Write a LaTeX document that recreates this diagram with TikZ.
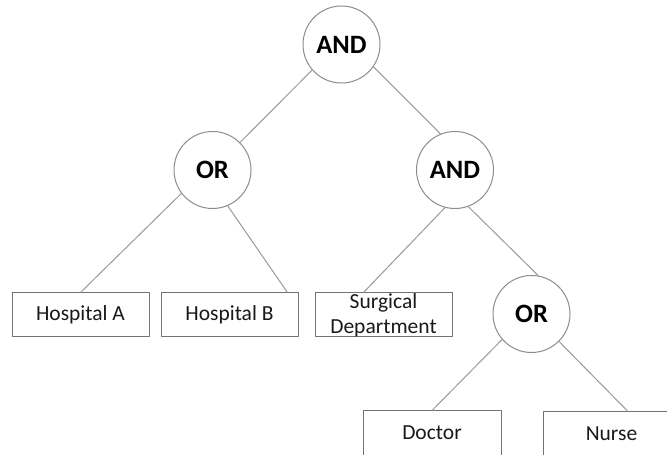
\documentclass[tikz,border=0pt]{standalone}
\usepackage{fontspec}
\setmainfont{Carlito}
\begin{document}
\begin{tikzpicture}[x=1bp,y=1bp,line join=bevel,
  opnode/.style={circle,draw=black!45,line width=1bp,minimum size=77bp,inner sep=0pt,
    font=\bfseries\fontsize{26.5bp}{31bp}\selectfont},
  leafbox/.style={rectangle,draw=black!55,line width=1bp,minimum width=137bp,minimum height=44bp,
    inner sep=0pt,align=center,text=black!90,font=\fontsize{21.5bp}{25bp}\selectfont},
  link/.style={draw=black!40,line width=1bp}]
  \useasboundingbox (0bp,0bp) rectangle (667bp,455bp);
  \clip (0bp,0bp) rectangle (667bp,455bp);
  % Node: and1
  \node[opnode] (and1) at (341.5bp,410.5bp) {AND};
  % Node: or1
  \node[opnode] (or1) at (212.5bp,285bp) {OR};
  % Node: and2
  \node[opnode] (and2) at (455bp,285bp) {AND};
  % Node: or2
  \node[opnode] (or2) at (531.5bp,141bp) {OR};
  % Node: hospA
  \node[leafbox] (hospA) at (80.5bp,140bp) {Hospital A};
  % Node: hospB
  \node[leafbox] (hospB) at (229.5bp,140bp) {Hospital B};
  % Node: surg
  \node[leafbox] (surg) at (383.5bp,140bp) {Surgical\\Department};
  % Node: doctor
  \node[leafbox,minimum width=138bp] (doctor) at (432bp,22bp) {Doctor};
  % Node: nurse
  \node[leafbox] (nurse) at (611.5bp,21bp) {Nurse};
  % Edge: and1 -> or1
  \draw[link] (and1.221) -- (or1.45.5);
  % Edge: and1 -> and2
  \draw[link] (and1.-35.5) -- (and2.112.8);
  % Edge: or1 -> hospA
  \draw[link] (or1.217.6) -- (hospA.north);
  % Edge: or1 -> hospB
  \draw[link] (or1.-67) -- ([xshift=-11bp]hospB.north east);
  % Edge: and2 -> surg
  \draw[link] (and2.255) -- ([xshift=-20bp]surg.north);
  % Edge: and2 -> or2
  \draw[link] (and2.-70.6) -- (or2.80);
  % Edge: or2 -> doctor
  \draw[link] (or2.221) -- (doctor.north);
  % Edge: or2 -> nurse
  \draw[link] (or2.-45.5) -- ([xshift=16.5bp]nurse.north);
\end{tikzpicture}
\end{document}
